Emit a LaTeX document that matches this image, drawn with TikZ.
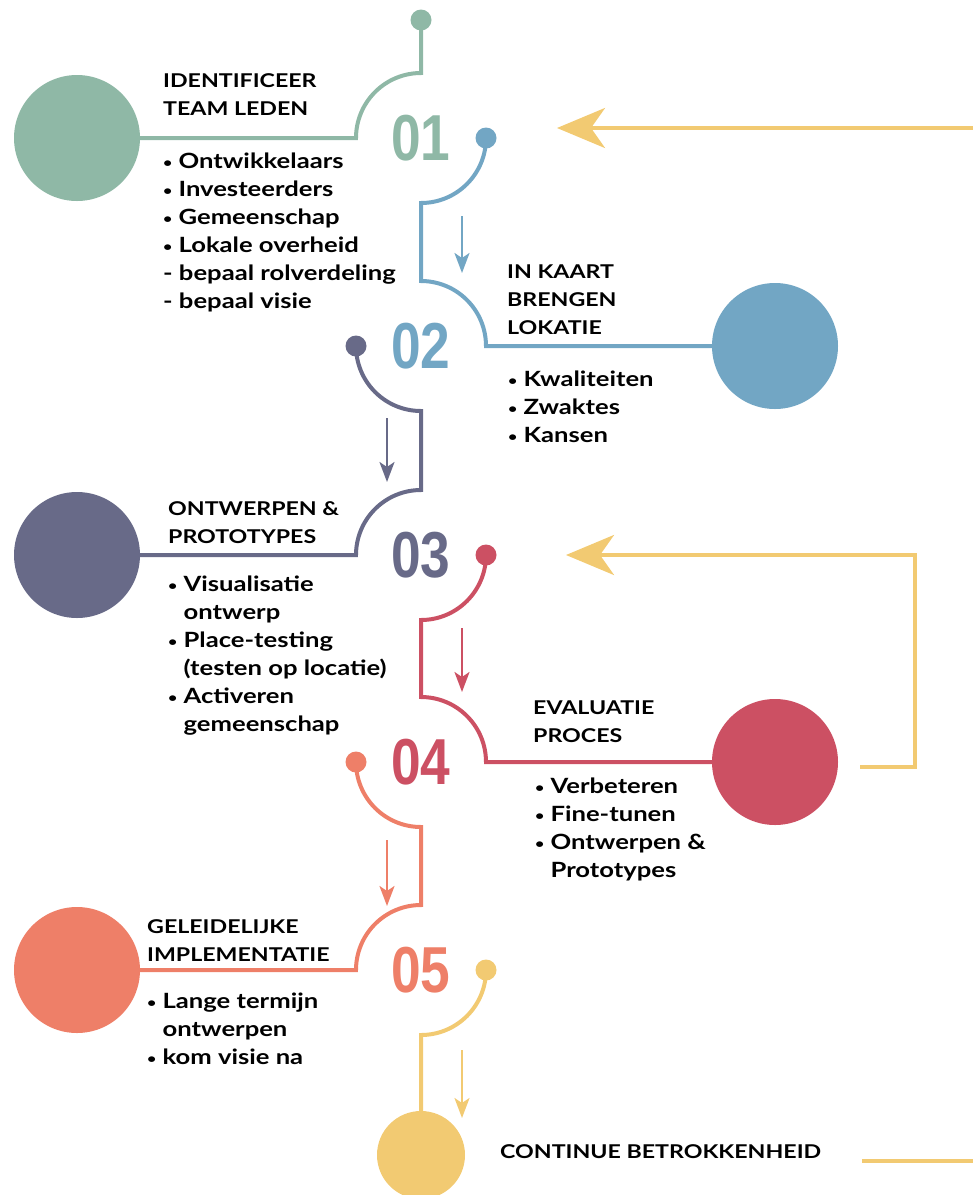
\documentclass[tikz,border=0pt]{standalone}
\usepackage{fontspec}
\setmainfont{Lato}[FakeStretch=1.22]
\newfontfamily\numfont[FakeStretch=0.82]{Liberation Sans}
\usepackage{tikz}
\usetikzlibrary{arrows.meta}
\definecolor{cgreen}{HTML}{8FB8A6}
\definecolor{cblue}{HTML}{72A6C4}
\definecolor{cpurple}{HTML}{686A88}
\definecolor{cred}{HTML}{CC5063}
\definecolor{corange}{HTML}{EE7F68}
\definecolor{cyellow}{HTML}{F2CA72}
\newcommand{\bul}{\raisebox{0.12ex}{\fontsize{13}{13}\selectfont •}\ }

\begin{document}
\begin{tikzpicture}[x=1pt, y=-1pt,
	bigdot/.style={circle, fill=#1, minimum size=126pt, inner sep=0pt},
	knob/.style={circle, fill=#1, minimum size=21pt, inner sep=0pt},
	num/.style={text=#1, font=\numfont\bfseries\fontsize{65}{65}\selectfont, inner sep=0pt},
	track/.style={line width=4pt, draw=#1},
	head/.style={anchor=north west, align=left, inner sep=0pt, font=\bfseries\fontsize{19}{28}\selectfont},
	items/.style={anchor=north west, align=left, inner sep=0pt, font=\bfseries\fontsize{21}{28}\selectfont},
	downarrow/.style={line width=2.5pt, draw=#1, -{Stealth[length=20pt, width=15pt, inset=5pt]}},
	loopback/.style={line width=4pt, draw=cyellow}]
					\useasboundingbox (0,0) rectangle (973,1195);
					\node[bigdot=cgreen] (c1) at (77,138) {};
					\node[bigdot=cblue] (c2) at (775,346) {};
					\node[bigdot=cpurple] (c3) at (77,555) {};
					\node[bigdot=cred] (c4) at (775,762) {};
					\node[bigdot=corange] (c5) at (77,970) {};
					\node[circle, fill=cyellow, minimum size=88pt, inner sep=0pt] (c6) at (421,1155) {};
					\node[knob=cgreen] (k1) at (421,20) {};
					\node[knob=cblue] (k2) at (486,138) {};
					\node[knob=cpurple] (k3) at (356,346) {};
					\node[knob=cred] (k4) at (486,555) {};
					\node[knob=corange] (k5) at (356,762) {};
					\node[knob=cyellow] (k6) at (486,970) {};
					\node[num=cgreen] (n1) at (421,138) {01};
					\node[num=cblue] (n2) at (421,346) {02};
					\node[num=cpurple] (n3) at (421,555) {03};
					\node[num=cred] (n4) at (421,762) {04};
					\node[num=corange] (n5) at (421,970) {05};
					\draw[track=cgreen] (k1.center) -- (421,73) arc[start angle=-90, end angle=-180, radius=65] -- (c1.east);
					\draw[track=cblue] (k2.center) arc[start angle=0, end angle=90, radius=65] -- (421,281) arc[start angle=-90, end angle=0, radius=65] -- (c2.west);
					\draw[track=cpurple] (k3.center) arc[start angle=180, end angle=90, radius=65] -- (421,490) arc[start angle=-90, end angle=-180, radius=65] -- (c3.east);
					\draw[track=cred] (k4.center) arc[start angle=0, end angle=90, radius=65] -- (421,697) arc[start angle=-90, end angle=0, radius=65] -- (c4.west);
					\draw[track=corange] (k5.center) arc[start angle=180, end angle=90, radius=65] -- (421,905) arc[start angle=-90, end angle=-180, radius=65] -- (c5.east);
					\draw[track=cyellow] (k6.center) arc[start angle=0, end angle=90, radius=65] -- (c6.north);
					\foreach \col/\x/\ya/\yb in {cblue/462/216/273, cpurple/387/418/482, cred/462/628/692, corange/387/840/906, cyellow/462/1050/1118}
						\draw[downarrow=\col] (\x,\ya) -- (\x,\yb);
					\node[head] (h1) at (163,73) {IDENTIFICEER\\TEAM LEDEN};
					\node[items] (l1) at (163,153) {\bul Ontwikkelaars\\\bul Investeerders\\\bul Gemeenschap\\\bul Lokale overheid\\- bepaal rolverdeling\\- bepaal visie};
					\node[head] (h2) at (507,265) {IN KAART\\BRENGEN\\LOKATIE};
					\node[items] (l2) at (508,371) {\bul Kwaliteiten\\\bul Zwaktes\\\bul Kansen};
					\node[head] (h3) at (168,501) {ONTWERPEN \&\\PROTOTYPES};
					\node[items] (l3) at (168,576) {\bul Visualisatie\\\phantom{\bul}ontwerp\\\bul Place-testing\\\phantom{\bul}(testen op locatie)\\\bul Activeren\\\phantom{\bul}gemeenschap};
					\node[head] (h4) at (533,701) {EVALUATIE\\PROCES};
					\node[items] (l4) at (535,778) {\bul Verbeteren\\\bul Fine-tunen\\\bul Ontwerpen \&\\\phantom{\bul}Prototypes};
					\node[head] (h5) at (147,919) {GELEIDELIJKE\\IMPLEMENTATIE};
					\node[items] (l5) at (147,993) {\bul Lange termijn\\\phantom{\bul}ontwerpen\\\bul kom visie na};
					\node[anchor=west, inner sep=0pt, font=\bfseries\fontsize{19}{22}\selectfont] (h6) at (500,1152) {CONTINUE BETROKKENHEID};
					\coordinate (r1) at (973,128);
					\coordinate (r1tip) at (557,128);
					\coordinate (r2) at (860,767);
					\coordinate (r2bend) at (915,555);
					\coordinate (r2tip) at (566,555);
					\coordinate (r3) at (862,1161);
					\coordinate (r3end) at (973,1161);
					\draw[loopback, -{Stealth[length=48pt, width=40pt, inset=14pt]}] (r1) -- (r1tip);
					\draw[loopback, -{Stealth[length=48pt, width=40pt, inset=14pt]}] (r2) -| (r2bend) -- (r2tip);
					\draw[loopback] (r3) -- (r3end);
				\end{tikzpicture}
\end{document}
